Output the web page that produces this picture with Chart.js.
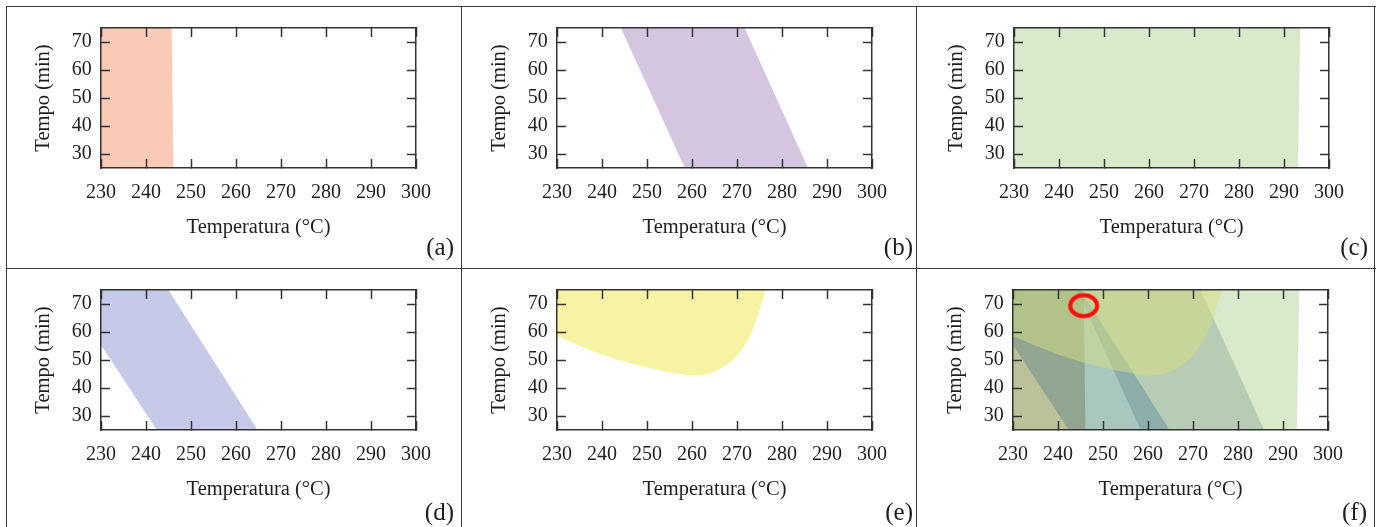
<!DOCTYPE html>
<html>
<head>
<meta charset="utf-8">
<script src="https://cdn.jsdelivr.net/npm/chart.js@4.4.0/dist/chart.umd.min.js"></script>
<style>
html,body{margin:0;padding:0;background:#fff;width:1384px;height:527px;overflow:hidden;position:relative;}
canvas{position:absolute;}
.ln{position:absolute;background:#3a3a3a;}
</style>
</head>
<body>
<div class="ln" style="left:6px;top:5.75px;width:1369.5px;height:1.5px"></div>
<div class="ln" style="left:6px;top:267.75px;width:1369.5px;height:1.5px"></div>
<div class="ln" style="left:5.75px;top:6px;width:1.5px;height:521px"></div>
<div class="ln" style="left:460.75px;top:6px;width:1.5px;height:521px"></div>
<div class="ln" style="left:915.5px;top:6px;width:1.5px;height:521px"></div>
<div class="ln" style="left:1373.75px;top:6px;width:1.5px;height:521px"></div>

<canvas id="pa"></canvas>
<canvas id="pb"></canvas>
<canvas id="pc"></canvas>
<canvas id="pd"></canvas>
<canvas id="pe"></canvas>
<canvas id="pf"></canvas>

<script>
// ---------- data ----------
const xTicks = [230, 240, 250, 260, 270, 280, 290, 300];
const yTicks = [30, 40, 50, 60, 70];
const panelLabels = ['(a)', '(b)', '(c)', '(d)', '(e)', '(f)'];
const xTitle = 'Temperatura (°C)';
const yTitle = 'Tempo (min)';

// boundaries of each feasible region (Temperatura °C, Tempo min)
const regionA = [{x:230,y:25},{x:230,y:75},{x:245.7,y:75},{x:246.1,y:25}];
const regionB = [{x:244.2,y:75},{x:271.7,y:75},{x:285.8,y:25},{x:258.4,y:25}];
const regionC = [{x:230,y:25},{x:230,y:75},{x:293.6,y:75},{x:293.1,y:25}];
const regionD = [{x:230,y:75},{x:245,y:75},{x:264.8,y:25},{x:242.4,y:25},{x:230,y:55.4}];
const curveEx = [230, 235, 240, 245, 250, 255, 258, 260, 262, 264, 266, 268, 270, 272, 273, 274, 275, 276, 276.3];
const curveEy = [58.6, 55.1, 52.0, 49.4, 47.3, 45.6, 44.8, 44.5, 44.6, 45.3, 46.6, 48.6, 51.5, 56, 59, 63, 67.5, 73, 75];
const regionE = curveEx.map((x, i) => ({x: x, y: curveEy[i]})).concat([{x:230, y:75}]);
const highlight = [{x:245.7, y:69.4}];

// ---------- styles ----------
const colors  = {A:'#f9cab5', B:'#d4c6e1', C:'#d9e9cb', D:'#c6c9e7', E:'#f6f4a2'};
// tints used for the overlay panel (f)
const colorsF = {A:'rgb(222,212,194)', B:'rgb(216,222,228)', C:'#d9e9cb', D:'rgb(196,218,240)', E:'rgba(213,223,127,0.5)'};
const regions = {A: regionA, B: regionB, C: regionC, D: regionD, E: regionE};
const FONT = 'Liberation Serif';
const TXT = '#1e1e1e';
const AX = '#333333';

const panels = [
  {id:'pa', left:7,   top:8,   width:451, labelY:240, layers:['A']},
  {id:'pb', left:463, top:8,   width:454, labelY:240, layers:['B']},
  {id:'pc', left:920, top:8,   width:452, labelY:240, layers:['C']},
  {id:'pd', left:7,   top:270, width:451, labelY:243, layers:['D']},
  {id:'pe', left:463, top:270, width:454, labelY:243, layers:['E']},
  // order: index 0 drawn last (on top)
  {id:'pf', left:919, top:270, width:452, labelY:243, layers:['E','B','D','A','C'], mark:true, overlay:true},
];
const H = 256, YW = 94, X2H = 20, PW = 315, XH = 70.5;

function ringImage() {
  const c = document.createElement('canvas');
  c.width = 36; c.height = 30;
  const g = c.getContext('2d');
  g.strokeStyle = '#ff0d0d';
  g.lineWidth = 4;
  g.beginPath();
  g.ellipse(18, 15, 13.5, 10.5, 0, 0, Math.PI * 2);
  g.stroke();
  return c;
}

// overlay panel: the marker (index 0) and yellow layer (index 1) are painted normally,
// the other layers are blended with 'multiply'
function modeFor(i) { return i <= 1 ? 'source-over' : 'multiply'; }
const overlayPlugin = {
  id: 'overlayBlend',
  beforeDatasetsDraw(chart) {
    chart.ctx.globalCompositeOperation = modeFor(chart.data.datasets.length - 1);
  },
  afterDatasetDraw(chart, args) {
    chart.ctx.globalCompositeOperation = modeFor(args.index - 1);
  },
  afterDatasetsDraw(chart) { chart.ctx.globalCompositeOperation = 'source-over'; }
};

function zeroPad(s) { s.paddingTop = 0; s.paddingBottom = 0; s.paddingLeft = 0; s.paddingRight = 0; }

function axisCommon(pos) {
  return {
    type: 'linear',
    position: pos,
    grid: {display:true, drawOnChartArea:false, drawTicks:true, tickLength:-9, tickColor:AX, tickWidth:1.5, z:1},
    border: {display:true, color:AX, width:1.5, z:1},
  };
}

panels.forEach((p, idx) => {
  const cv = document.getElementById(p.id);
  cv.width = p.width; cv.height = H;
  cv.style.left = p.left + 'px'; cv.style.top = p.top + 'px';
  cv.style.width = p.width + 'px'; cv.style.height = H + 'px';

  const pal = p.overlay ? colorsF : colors;
  const datasets = p.layers.map(k => ({
    data: regions[k],
    backgroundColor: pal[k],
    borderColor: 'rgba(0,0,0,0)',
    borderWidth: 0,
    pointRadius: 0,
    fill: 'shape',
    tension: 0
  }));
  if (p.mark) {
    datasets.unshift({
      data: highlight,
      showLine: false,
      pointStyle: ringImage(),
      pointRadius: 15,
      fill: false
    });
  }

  const xt = (s) => { s.ticks = xTicks.map(v => ({value: v})); };
  const yt = (s) => { s.ticks = yTicks.map(v => ({value: v})); };
  const y2w = p.width - 4 - YW - PW;
  const pt = p.labelY - 245.5;
  const pb = -4.5 - pt;

  const x = Object.assign(axisCommon('bottom'), {
    min: 230, max: 300,
    afterBuildTicks: xt,
    afterFit: (s) => { s.height = XH; zeroPad(s); },
    ticks: {autoSkip:false, maxRotation:0, padding:22, color:TXT, font:{family:FONT, size:20}},
    title: {display:true, text:xTitle, color:TXT, font:{family:FONT, size:20.5}, padding:{top:0, bottom:-1.5}}
  });
  const x2 = Object.assign(axisCommon('top'), {
    min: 230, max: 300,
    afterBuildTicks: xt,
    afterFit: (s) => { s.height = X2H; zeroPad(s); },
    ticks: {display:false}
  });
  const y = Object.assign(axisCommon('left'), {
    min: 25, max: 75,
    afterBuildTicks: yt,
    afterFit: (s) => { s.width = YW; zeroPad(s); },
    ticks: {padding:18.3, color:TXT, font:{family:FONT, size:20}},
    title: {display:true, text:yTitle, color:TXT, font:{family:FONT, size:20.5}, padding:{top:24.2, bottom:0}}
  });
  const y2 = Object.assign(axisCommon('right'), {
    min: 25, max: 75,
    afterBuildTicks: yt,
    afterFit: (s) => { s.width = y2w; zeroPad(s); },
    ticks: {display:false}
  });

  new Chart(cv, {
    type: 'line',
    data: {datasets: datasets},
    options: {
      responsive: false,
      animation: false,
      devicePixelRatio: 1,
      layout: {padding: {left:0, top:0, right:4, bottom:0}},
      scales: {x: x, x2: x2, y: y, y2: y2},
      plugins: {
        legend: {display:false},
        tooltip: {enabled:false},
        title: {
          display: true, text: panelLabels[idx], position: 'bottom', align: 'end',
          color: TXT, font: {family: FONT, size: 25, weight: 'normal'},
          padding: {top: pt, bottom: pb}
        }
      }
    },
    plugins: p.overlay ? [overlayPlugin] : []
  });
});
</script>
</body>
</html>
